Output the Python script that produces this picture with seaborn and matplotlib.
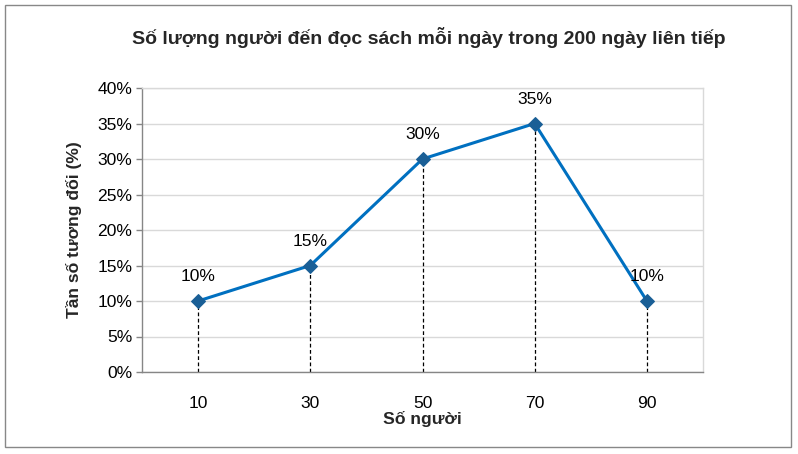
import matplotlib
matplotlib.use("Agg")
import matplotlib.pyplot as plt
import seaborn as sns
import pandas as pd
from matplotlib.patches import Rectangle

categories = ["10", "30", "50", "70", "90"]
values = [10, 15, 30, 35, 10]
y_ticks = [0, 5, 10, 15, 20, 25, 30, 35, 40]
title = "Số lượng người đến đọc sách mỗi ngày trong 200 ngày liên tiếp"
x_label = "Số người"
y_label = "Tần số tương đối (%)"

sns.set_theme(style="white")
plt.rcParams["font.family"] = ["Liberation Sans", "DejaVu Sans"]

df = pd.DataFrame({"x": categories, "y": values})

fig = plt.figure(figsize=(7.98, 4.54), dpi=100)
ax = fig.add_axes([142/798, 1-372/454, (703-142)/798, (372-88)/454])

ax.vlines(df["x"], 0, df["y"], colors="black", linestyles=(0, (3, 2)), linewidth=0.9, zorder=2)
sns.lineplot(data=df, x="x", y="y", ax=ax, color="#0070C0", linewidth=2.2,
             marker="D", markersize=7, markerfacecolor="#1a5f96",
             markeredgecolor="#1a5f96", sort=False, zorder=3)

for xc, yv in zip(df["x"], df["y"]):
    ax.annotate(f"{yv}%", (xc, yv), xytext=(0, 17.5), textcoords="offset points",
                ha="center", va="center", fontsize=12.6, color="black")

ax.set_xlim(-0.5, len(categories) - 0.5)
ax.set_ylim(0, 40)
ax.set_yticks(y_ticks)
ax.set_yticklabels([f"{t}%" for t in y_ticks])
ax.yaxis.grid(True, color="#d9d9d9", linewidth=1)
ax.set_axisbelow(True)

for s in ["top", "right"]:
    ax.spines[s].set_color("#d9d9d9")
    ax.spines[s].set_linewidth(1)
for s in ["left", "bottom"]:
    ax.spines[s].set_color("#868686")
    ax.spines[s].set_linewidth(1)

ax.tick_params(axis="y", which="major", left=True, length=4, width=1, color="#868686",
               labelsize=12.6, pad=3, labelcolor="black")
ax.tick_params(axis="x", which="major", bottom=False, labelsize=12.6, pad=11, labelcolor="black")

ax.set_xlabel(x_label, fontsize=12.6, fontweight="bold", labelpad=0)
ax.set_ylabel(y_label, fontsize=12.6, fontweight="bold", labelpad=11)

fig.text(429/798, 1-37/454, title, ha="center", va="center", fontsize=14, fontweight="bold")

fig.patches.append(Rectangle((5/798, 1-447/454), (791-5)/798, (447-5)/454,
                             transform=fig.transFigure, fill=False,
                             edgecolor="#888888", linewidth=1))

fig.savefig("out.png", dpi=100)
